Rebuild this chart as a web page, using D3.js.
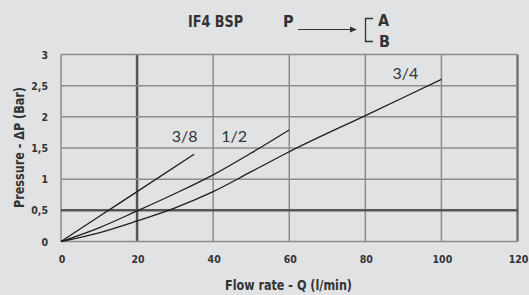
<!DOCTYPE html>
<html><head><meta charset="utf-8">
<script src="https://cdn.jsdelivr.net/npm/d3@7"></script>
<style>
html,body{margin:0;padding:0;background:#e1e2e4;}
svg{display:block;}
</style></head>
<body>
<script>
// ---- data ----
const xTicks = [0, 20, 40, 60, 80, 100, 120];
const yTicks = [0, 0.5, 1, 1.5, 2, 2.5, 3];
const yTickLabels = ["0", "0,5", "1", "1,5", "2", "2,5", "3"];
const series38 = [[0,0],[10,0.4],[20,0.8],[35,1.4]];
const series12 = [[0,0],[10,0.22],[20,0.49],[30,0.77],[40,1.07],[50,1.42],[60,1.79]];
const series34 = [[0,0],[10,0.14],[20,0.33],[30,0.54],[40,0.8],[50,1.12],[60,1.44],[80,2.02],[100,2.6]];
const seriesNames = ["3/8", "1/2", "3/4"];
const labelPos = [[32.5,1.6],[45.5,1.6],[90.5,2.6]];

const W = 529, H = 295;
const svg = d3.select("body").append("svg").attr("width", W).attr("height", H);
const x = d3.scaleLinear().domain([0,120]).range([61, 517.5]);
const y = d3.scaleLinear().domain([0,3]).range([241.5, 54.5]);
const condensed = "'Liberation Sans Narrow','DejaVu Sans Condensed','Arial Narrow',sans-serif";

// grid
const g = svg.append("g");
g.selectAll(".vg").data(xTicks).join("line")
  .attr("x1", d=>x(d)).attr("x2", d=>x(d)).attr("y1", y(0)).attr("y2", y(3))
  .attr("stroke", d=> d===20 ? "#555" : (d===120 ? "#666" : "#8c8c8c"))
  .attr("stroke-width", d=> d===20 ? 2.5 : (d===120 ? 2.2 : 1.5));
g.selectAll(".hg").data(yTicks).join("line")
  .attr("x1", x(0)).attr("x2", x(120)).attr("y1", d=>y(d)).attr("y2", d=>y(d))
  .attr("stroke", d=> d===0.5 ? "#555" : "#8c8c8c")
  .attr("stroke-width", d=> d===0.5 ? 2.5 : 1.5);

// axes labels
svg.append("g").selectAll("text").data(xTicks).join("text")
  .attr("x", d=>x(d)+1).attr("y", 263)
  .attr("text-anchor","middle")
  .style("font-family", condensed).style("font-weight","bold").style("font-size","10.5px")
  .attr("fill","#333").text(d=>d);
svg.append("g").selectAll("text").data(yTicks).join("text")
  .attr("x", 48).attr("y", d=>y(d)+4)
  .attr("text-anchor","end")
  .style("font-family", condensed).style("font-weight","bold").style("font-size","10.5px")
  .attr("fill","#333").text((d,i)=>yTickLabels[i]);

svg.append("text").attr("x", 288.5).attr("y", 290).attr("text-anchor","middle")
  .style("font-family", condensed).style("font-weight","bold").style("font-size","14px")
  .attr("textLength",127).attr("lengthAdjust","spacingAndGlyphs")
  .attr("fill","#333").text("Flow rate - Q (l/min)");
svg.append("text").attr("transform","translate(23.5,147.5) rotate(-90)").attr("text-anchor","middle")
  .style("font-family", condensed).style("font-weight","bold").style("font-size","14px")
  .attr("textLength",121).attr("lengthAdjust","spacingAndGlyphs")
  .attr("fill","#333").text("Pressure - ΔP (Bar)");

// curves
const line = d3.line().x(d=>x(d[0])).y(d=>y(d[1])).curve(d3.curveMonotoneX);
[series38, series12, series34].forEach(s=>{
  svg.append("path").datum(s).attr("d", line)
    .attr("fill","none").attr("stroke","#1e1e1e").attr("stroke-width",1.3);
});
svg.append("g").selectAll("text").data(seriesNames).join("text")
  .attr("x",(d,i)=>x(labelPos[i][0])).attr("y",(d,i)=>y(labelPos[i][1]))
  .attr("text-anchor","middle")
  .style("font-family","Lato, 'Open Sans', sans-serif").style("font-size","16px")
  .attr("fill","#333").text(d=>d);

// title
const tf = {family: condensed, size: "16px"};
svg.append("text").attr("x",188).attr("y",27).style("font-family",tf.family).style("font-size",tf.size)
  .style("font-weight","bold").attr("textLength",55).attr("lengthAdjust","spacingAndGlyphs")
  .attr("fill","#333").text("IF4 BSP");
svg.append("text").attr("x",283).attr("y",27).style("font-family",tf.family).style("font-size",tf.size)
  .style("font-weight","bold").attr("fill","#333").text("P");
svg.append("line").attr("x1",298).attr("x2",351).attr("y1",29.5).attr("y2",29.5).attr("stroke","#333").attr("stroke-width",1.2);
svg.append("path").attr("d","M350,26.5 L357,29.5 L350,32.5 Z").attr("fill","#333");
svg.append("path").attr("d","M373,18.5 L365.5,18.5 L365.5,41.5 L373,41.5").attr("fill","none").attr("stroke","#333").attr("stroke-width",1.3);
svg.append("text").attr("x",378).attr("y",26).style("font-family",tf.family).style("font-size",tf.size)
  .style("font-weight","bold").attr("fill","#333").text("A");
svg.append("text").attr("x",379).attr("y",47).style("font-family",tf.family).style("font-size",tf.size)
  .style("font-weight","bold").attr("fill","#333").text("B");
</script>
</body></html>
